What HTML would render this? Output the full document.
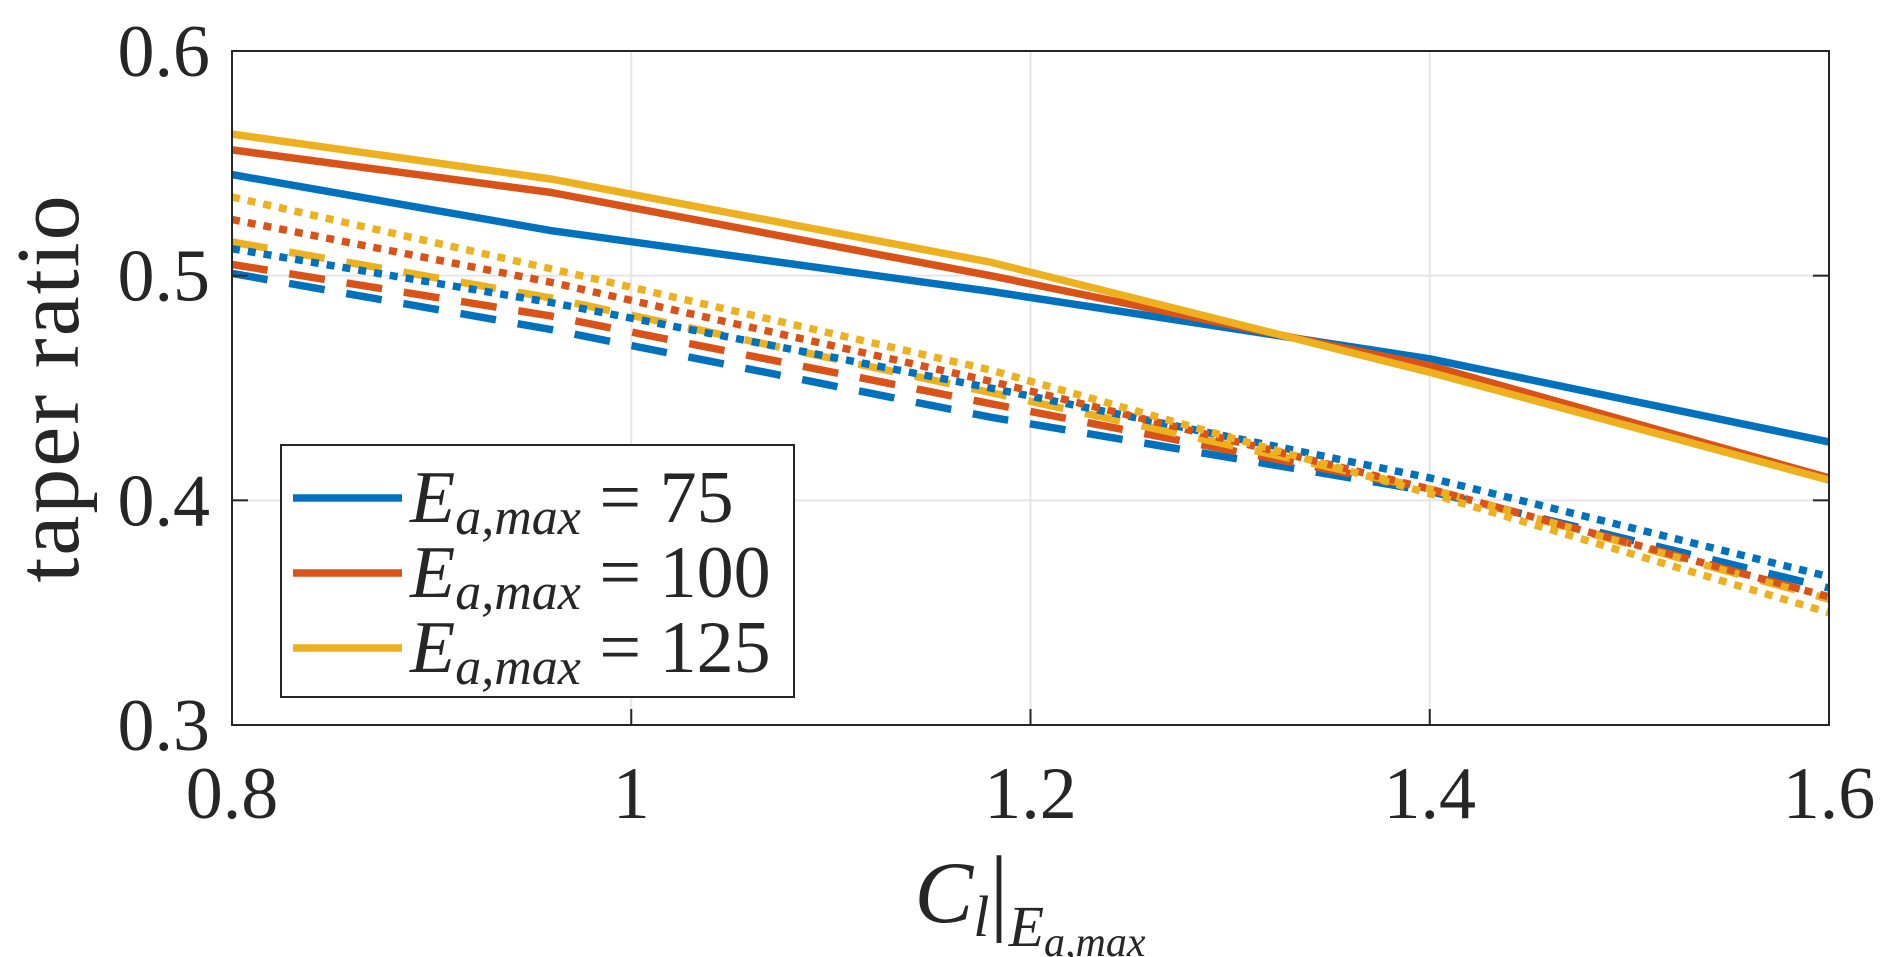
<!DOCTYPE html>
<html><head><meta charset="utf-8"><style>
body{margin:0;background:#fff}
svg{display:block;font-family:"Liberation Serif",serif}
</style></head><body>
<svg id="chart" width="1892" height="957" viewBox="0 0 1892 957">
<g id="grid"></g>
<g id="series"></g>
<rect x="232" y="51" width="1597" height="674" fill="none" stroke="#262626" stroke-width="2"/>
<g id="ticks"></g>
<text x="78" y="388" font-size="90" fill="#262626" text-anchor="middle" letter-spacing="2" transform="rotate(-90 78 388)">taper ratio</text>
<text x="1030" y="922" font-size="88" fill="#262626" text-anchor="middle"><tspan font-style="italic">C</tspan><tspan font-style="italic" font-size="58" dy="14">l</tspan><tspan dy="-14" font-size="96">|</tspan><tspan font-style="italic" font-size="58" dy="24">E</tspan><tspan font-style="italic" font-size="42" dy="10">a,max</tspan></text>
<g>
<rect x="281" y="445" width="513" height="252" fill="#fff" stroke="#262626" stroke-width="2"/>
<g id="legend-entries"></g>
</g>
</svg>
<script>
const xVals=[0.8,0.96,1.18,1.4,1.6];
const solidBlue=[0.545,0.520,0.493,0.463,0.426];
const solidRed=[0.556,0.537,0.500,0.460,0.410];
const solidYellow=[0.563,0.543,0.506,0.457,0.409];
const dashBlue=[0.501,0.476,0.437,0.404,0.361];
const dashRed=[0.505,0.482,0.443,0.405,0.357];
const dashYellow=[0.515,0.490,0.448,0.405,0.356];
const dotBlue=[0.512,0.488,0.450,0.410,0.366];
const dotRed=[0.525,0.497,0.453,0.405,0.357];
const dotYellow=[0.535,0.503,0.458,0.403,0.350];
const xTicks=[0.8,1,1.2,1.4,1.6];
const xTickLabels=["0.8","1","1.2","1.4","1.6"];
const yTicks=[0.3,0.4,0.5,0.6];
const yTickLabels=["0.3","0.4","0.5","0.6"];
const legendLabels=["75","100","125"];
const NS="http://www.w3.org/2000/svg";
const L=232,R=1829,T=51,B=725;
const xs=v=>L+(v-0.8)/0.8*(R-L);
const ys=v=>B-(v-0.3)/0.3*(B-T);
const C=["#0072BD","#D95319","#EDB120"];
function mk(tag,attrs,parent){const e=document.createElementNS(NS,tag);for(const k in attrs)e.setAttribute(k,attrs[k]);parent.appendChild(e);return e;}
const grid=document.getElementById('grid'),ticks=document.getElementById('ticks'),ser=document.getElementById('series');
xTicks.forEach((t,i)=>{
 const g=mk('line',{x1:xs(t),x2:xs(t),y1:T,y2:B,stroke:'#e5e5e5','stroke-width':2},grid);
 
 
 const tk=mk('line',{x1:xs(t),x2:xs(t),y1:B,y2:B-16,stroke:'#262626','stroke-width':2},ticks);
 
 
 const tx=mk('text',{x:xs(t),y:818,'font-size':74,fill:'#262626','text-anchor':'middle'},ticks);
 tx.textContent=xTickLabels[i];
 
 
});
yTicks.forEach((t,i)=>{
 const g=mk('line',{x1:L,x2:R,y1:ys(t),y2:ys(t),stroke:'#e5e5e5','stroke-width':2},grid);
 
 
 const tk=mk('line',{x1:L,x2:L+16,y1:ys(t),y2:ys(t),stroke:'#262626','stroke-width':2},ticks);
 
 
 const tk2=mk('line',{x1:R,x2:R-16,y1:ys(t),y2:ys(t),stroke:'#262626','stroke-width':2},ticks);
 
 
 const tx=mk('text',{x:210,y:ys(t)+25,'font-size':74,fill:'#262626','text-anchor':'end'},ticks);
 tx.textContent=yTickLabels[i];
 
 
});
const series=[[dashBlue,0,'dash'],[dashRed,1,'dash'],[dashYellow,2,'dash'],[dotBlue,0,'dot'],[dotRed,1,'dot'],[dotYellow,2,'dot'],[solidBlue,0,'solid'],[solidRed,1,'solid'],[solidYellow,2,'solid']];
series.forEach(([vals,ci,st])=>{
 const d=vals.map((v,i)=>(i?'L':'M')+xs(xVals[i]).toFixed(1)+' '+ys(v).toFixed(1)).join(' ');
 const a={d:d,fill:'none',stroke:C[ci],'stroke-width':7.5,'stroke-linejoin':'round'};
 if(st==='dash')a['stroke-dasharray']='36 22';
 if(st==='dot')a['stroke-dasharray']='8 8';
 const p=mk('path',a,ser);
 
 
});
const le=document.getElementById('legend-entries');
legendLabels.forEach((lab,i)=>{
 const y=498+i*75;
 const ln=mk('line',{x1:293,x2:402,y1:y,y2:y,stroke:C[i],'stroke-width':7.5},le);
 
 
 const t=mk('text',{x:410,y:y+24,'font-size':74,fill:'#262626'},le);
 t.innerHTML='<tspan font-style="italic">E</tspan><tspan font-style="italic" font-size="52" dy="12">a,max</tspan><tspan dy="-12"> = '+lab+'</tspan>';
 
 
});
</script>
</body></html>
